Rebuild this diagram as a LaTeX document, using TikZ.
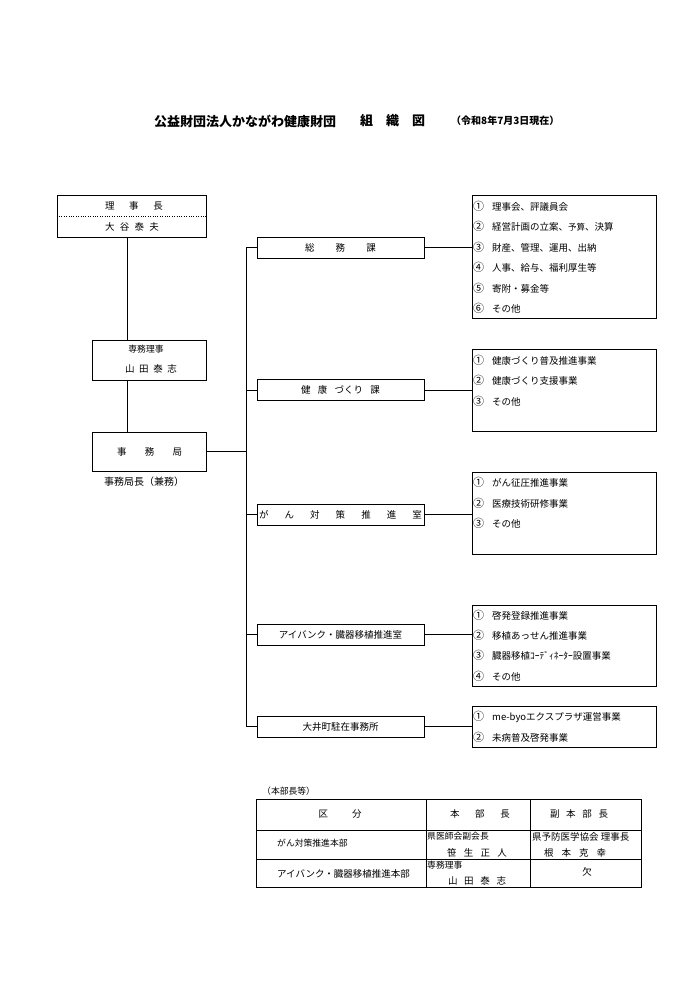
\documentclass[tikz,border=0pt]{standalone}
\usepackage{fontspec}
\setmainfont{Noto Sans CJK JP}
\newcommand\sprd[2]{\makebox[#1pt][s]{#2}}
\newcommand\cnum[1]{\makebox[19pt][l]{\fontsize{11}{11}\selectfont #1}}
\begin{document}
\begin{tikzpicture}[x=1pt,y=-1pt,
  bx/.style={draw, line width=0.8pt, inner sep=0, rectangle},
  t/.style={inner sep=0, font=\fontsize{9.5}{11}\selectfont},
  ts/.style={inner sep=0, font=\fontsize{8.8}{10}\selectfont},
  it/.style={t, anchor=west},
  ln/.style={line width=0.8pt},
  br/.style={bx, minimum width=167, minimum height=21},
  lb/.style={bx, minimum width=184}
]
\useasboundingbox (0,0) rectangle (700,990);

% title
\node[inner sep=0, anchor=west, font=\fontsize{13}{15}\selectfont\bfseries] (ttl) at (154,121) {公益財団法人かながわ健康財団};
\node[inner sep=0, anchor=west, font=\fontsize{13}{15}\selectfont\bfseries] (ttl2) at (360,121) {組　織　図};
\node[inner sep=0, anchor=west, font=\fontsize{10}{12}\selectfont\bfseries] (ttl3) at (451,121) {（令和8年7月3日現在）};

% left column
\node[bx, minimum width=149, minimum height=42] (rij) at (131.5,216) {};
\draw[dotted] (rij.west) -- (rij.east);
\node[t] (rijA) at (134,206) {\sprd{58}{理\hfill 事\hfill 長}};
\node[t] (rijB) at (132,227) {\sprd{54}{大\hfill 谷\hfill 泰\hfill 夫}};

\node[bx, minimum width=114, minimum height=40] (sen) at (149,360) {};
\node[ts] (senA) at (146,349) {専務理事};
\node[t] (senB) at (151,369) {\sprd{52}{山\hfill 田\hfill 泰\hfill 志}};

\node[bx, minimum width=114, minimum height=39] (jim) at (149,451.5) {};
\node[t] (jimA) at (149.5,452) {\sprd{65}{事\hfill 務\hfill 局}};
\node[inner sep=0, font=\fontsize{10}{12}\selectfont] (jimB) at (144,482) {事務局長（兼務）};

\draw[ln] (127,0 |- rij.south) -- (127,0 |- sen.north);
\draw[ln] (127,0 |- sen.south) -- (127,0 |- jim.north);

% branches
\node[br] (b1) at (340.5,247.5) {};
\node[t] at (b1) {\sprd{71}{総\hfill 務\hfill 課}};
\node[br] (b2) at (340.5,390) {};
\node[t] at (b2) {\sprd{79}{健\hfill 康\hfill づくり\hfill 課}};
\node[br] (b3) at (340.5,514.5) {};
\node[t] at (b3) {\sprd{163}{が\hfill ん\hfill 対\hfill 策\hfill 推\hfill 進\hfill 室}};
\node[br] (b4) at (340.5,634.5) {};
\node[t] at (b4) {アイバンク・臓器移植推進室};
\node[br] (b5) at (340.5,726.5) {};
\node[t] at (b5) {大井町駐在事務所};

\coordinate (tA) at (246,247.5);
\coordinate (tB) at (246,726.5);
\draw[ln] (tA) -- (tB);
\draw[ln] (jim.east) -- (jim.east -| tA);
\foreach \b in {b1,b2,b3,b4,b5} \draw[ln] (\b.west -| tA) -- (\b.west);

% list boxes
\node[lb, minimum height=123] (l1) at (564,256.5) {};
\node[lb, minimum height=82] (l2) at (564,390) {};
\node[lb, minimum height=82] (l3) at (564,513) {};
\node[lb, minimum height=81] (l4) at (564,645.5) {};
\node[lb, minimum height=41] (l5) at (564,726.5) {};
\foreach \b/\l in {b1/l1,b2/l2,b3/l3,b4/l4,b5/l5} \draw[ln] (\b.east) -- (\b.east -| \l.west);

\node[it] at (473,206) {\cnum{①}理事会、評議員会};
\node[it] at (473,226.5) {\cnum{②}経営計画の立案、{\fontsize{8.5}{10}\selectfont 予算}、決算};
\node[it] at (473,247) {\cnum{③}財産、管理、運用、出納};
\node[it] at (473,267.5) {\cnum{④}人事、給与、福利厚生等};
\node[it] at (473,288) {\cnum{⑤}寄附・募金等};
\node[it] at (473,308) {\cnum{⑥}その他};

\node[it] at (473,360) {\cnum{①}健康づくり普及推進事業};
\node[it] at (473,380.5) {\cnum{②}健康づくり支援事業};
\node[it] at (473,401) {\cnum{③}その他};

\node[it] at (473,482.5) {\cnum{①}がん征圧推進事業};
\node[it] at (473,503) {\cnum{②}医療技術研修事業};
\node[it] at (473,523.5) {\cnum{③}その他};

\node[it] at (473,615) {\cnum{①}啓発登録推進事業};
\node[it] at (473,635) {\cnum{②}移植あっせん推進事業};
\node[it] at (473,655.5) {\cnum{③}臓器移植ｺｰﾃﾞｨﾈｰﾀｰ設置事業};
\node[it] at (473,676) {\cnum{④}その他};

\node[it] at (473,717) {\cnum{①}me-byoエクスプラザ運営事業};
\node[it] at (473,737) {\cnum{②}未病普及啓発事業};

% table
\node[ts, anchor=west] (tcap) at (262,791) {（本部長等）};
\node[bx, minimum width=385, minimum height=88] (tbl) at (448.5,843.5) {};
\coordinate (c1) at (426,799.5);
\coordinate (c2) at (530.5,799.5);
\coordinate (r1) at (256,830);
\coordinate (r2) at (256,859);
\draw[ln] (c1) -- (c1 |- tbl.south);
\draw[ln] (c2) -- (c2 |- tbl.south);
\draw[ln] (r1) -- (r1 -| tbl.east);
\draw[ln] (r2) -- (r2 -| tbl.east);

\node[t] at (340,814) {\sprd{43}{区\hfill 分}};
\node[t] at (480,814) {\sprd{60}{本\hfill 部\hfill 長}};
\node[t] at (579,814) {\sprd{58}{副\hfill 本\hfill 部\hfill 長}};

\node[ts, anchor=west] at (277,843.5) {がん対策推進本部};
\node[ts, anchor=west] at (427,836.5) {県医師会副会長};
\node[t] at (477,852.5) {\sprd{60}{笹\hfill 生\hfill 正\hfill 人}};
\node[t, anchor=west] at (532,836.5) {県予防医学協会 理事長};
\node[t] at (575,852.5) {\sprd{62}{根\hfill 本\hfill 克\hfill 幸}};

\node[t, anchor=west] at (277,874) {アイバンク・臓器移植推進本部};
\node[ts, anchor=west] at (427,865) {専務理事};
\node[t] at (477,881) {\sprd{58}{山\hfill 田\hfill 泰\hfill 志}};
\node[t] at (587,872) {欠};
\end{tikzpicture}
\end{document}
